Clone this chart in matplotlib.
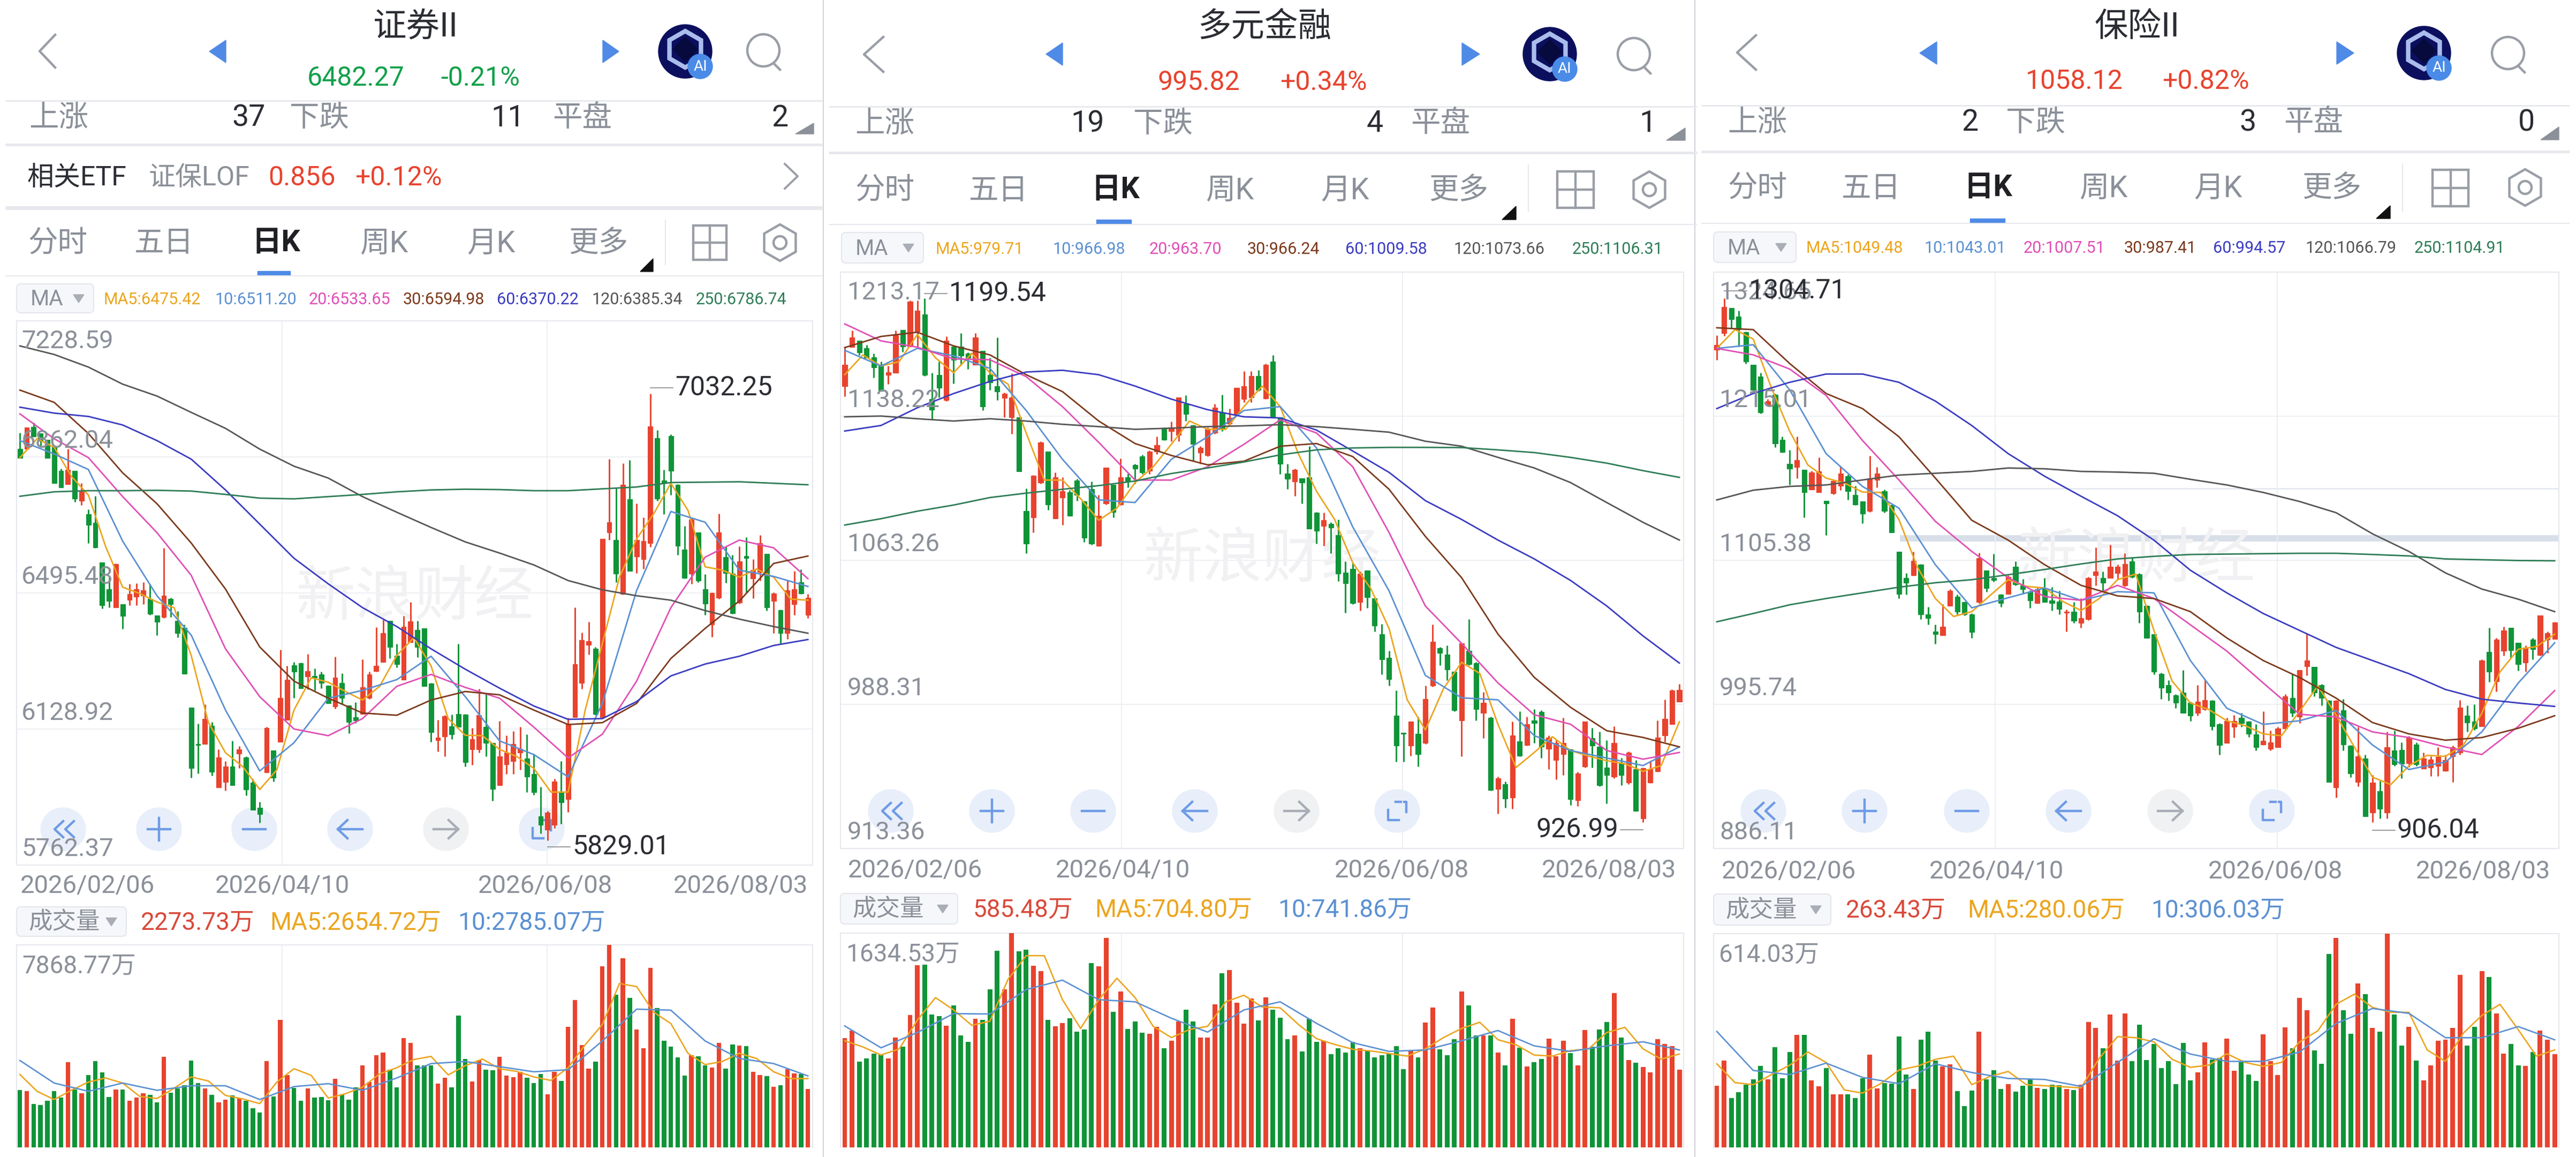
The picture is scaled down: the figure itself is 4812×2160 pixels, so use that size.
import numpy as np
import matplotlib
matplotlib.use("Agg")
import matplotlib.pyplot as plt
from matplotlib.patches import Circle, Ellipse, FancyBboxPatch, Polygon, Rectangle, RegularPolygon

plt.rcParams["font.family"] = ["Roboto", "Noto Sans CJK SC", "DejaVu Sans"]

W, H = 4812, 2160
RED = "#e8432e"
GREEN = "#0f9438"
GREY = "#8b9099"
DARK = "#2b2d33"
LINE = "#e6e8ed"
MA_COLORS = ["#eba51e", "#5b90d2", "#e04fb5", "#7b3a1c", "#3a3cc0", "#565656", "#2f7d57"]

date_labels = ["2026/02/06", "2026/04/10", "2026/06/08", "2026/08/03"]
tab_labels = ["分时", "五日", "日K", "周K", "月K", "更多"]

# ---------- 证券II ----------
sec_high = [6927,6941,6954,6925,6908,6890,6831,6883,6824,6791,6721,6756,6578,6538,6575,6465,6520,6522,6524,6520,6435,6617,6483,6446,6410,6187,6143,6196,6147,6074,6043,6097,6083,6055,5994,5933,6134,6071,6343,6299,6310,6308,6331,6292,6283,6246,6324,6279,6193,6201,6316,6283,6403,6423,6421,6359,6433,6471,6421,6400,6253,6154,6166,6168,6359,6169,6132,6237,6226,6092,6150,6112,6123,6135,6115,6062,5973,5908,5994,6042,6159,6456,6389,6417,6350,6641,6856,6778,6844,6854,6736,6699,7032.25,6934,6828,6923,6789,6676,6699,6658,6546,6497,6709,6621,6598,6621,6646,6586,6651,6601,6497,6451,6529,6555,6559,6492]
sec_low = [6859,6883,6917,6888,6859,6791,6780,6789,6741,6732,6630,6617,6454,6457,6456,6399,6463,6463,6465,6437,6382,6428,6430,6375,6277,5997,6009,6089,6003,5971,5963,5977,6023,5950,5911,5876,6012,5988,6095,6154,6212,6239,6235,6233,6239,6198,6184,6196,6117,6145,6169,6210,6283,6310,6319,6295,6262,6362,6322,6244,6095,6069,6055,6101,6134,6028,6032,6065,6055,5936,5977,6007,6007,6019,5959,5951,5848,5829.01,5862,5873,5905,6161,6237,6329,6166,6157,6638,6525,6491,6555,6549,6561,6619,6743,6707,6759,6598,6534,6520,6525,6437,6377,6479,6523,6439,6467,6497,6481,6529,6448,6387,6359,6371,6437,6492,6428]
sec_open = [6883,6883,6943,6925,6908,6890,6825,6789,6824,6743,6707,6684,6578,6506,6456,6465,6477,6485,6488,6479,6435,6430,6480,6421,6402,6187,6089,6089,6138,5971,5986,6028,6062,6053,5985,5917,6012,6071,6095,6154,6301,6307,6270,6272,6276,6246,6189,6253,6193,6161,6169,6212,6285,6310,6421,6327,6262,6362,6396,6400,6251,6099,6108,6136,6169,6168,6074,6074,6134,6092,5977,6034,6043,6065,6049,6007,5893,5858,5871,5959,5940,6161,6253,6356,6345,6161,6658,6638,6492,6748,6594,6586,6630,6913,6799,6918,6787,6612,6548,6658,6506,6410,6483,6592,6548,6469,6595,6534,6552,6601,6474,6449,6387,6465,6525,6437]
sec_close = [6859,6941,6917,6906,6859,6791,6780,6828,6750,6768,6679,6618,6463,6474,6573,6434,6492,6506,6502,6439,6417,6488,6465,6387,6277,6023,6085,6157,6014,6053,6028,5977,6074,5966,5911,5899,6132,5997,6212,6261,6283,6239,6285,6267,6253,6198,6267,6212,6147,6152,6242,6276,6299,6387,6350,6304,6405,6419,6350,6244,6120,6106,6164,6115,6135,6040,6101,6166,6092,5968,6055,6065,6088,6076,6000,5959,5871,5904,5988,5931,6143,6304,6368,6365,6169,6641,6686,6548,6787,6555,6638,6635,6945,6750,6791,6825,6623,6536,6693,6529,6467,6495,6658,6549,6441,6580,6589,6557,6630,6456,6494,6387,6502,6506,6494,6483]
sec_ma5 = [6860,6911,6888,6810,6759,6621,6511,6494,6471,6456,6327,6147,6065,6028,5966,6019,6180,6267,6255,6230,6207,6244,6327,6375,6299,6157,6112,6111,6074,6055,6023,5959,5959,6180,6359,6538,6641,6709,6791,6718,6566,6557,6538,6560,6538,6479,6476]
sec_ma10 = [6906,6870,6828,6635,6488,6382,6180,6016,6092,6212,6233,6262,6325,6216,6097,6060,6000,6198,6502,6715,6686,6557,6540,6513]
sec_ma20 = [6978,6911,6860,6755,6658,6543,6345,6216,6129,6111,6157,6244,6276,6241,6212,6134,6051,6115,6258,6456,6592,6638,6617,6534]
sec_ma30 = [7042,7009,6925,6819,6736,6630,6506,6350,6258,6212,6172,6166,6207,6230,6221,6180,6141,6146,6198,6319,6400,6474,6575,6595]
sec_ma60 = [6996,6980,6971,6948,6906,6856,6773,6681,6589,6520,6456,6405,6345,6290,6239,6191,6155,6157,6203,6272,6304,6325,6354,6370]
sec_ma120 = [7161,7138,7104,7058,7026,6982,6939,6883,6837,6805,6755,6713,6672,6633,6603,6571,6529,6504,6488,6476,6448,6425,6405,6387]
sec_ma250 = [6756,6768,6771,6771,6772,6770,6761,6751,6749,6755,6761,6768,6773,6775,6774,6771,6771,6776,6781,6793,6794,6795,6791,6787]
sec_vol = [2234,2179,1676,1644,1819,2195,1939,3312,2258,2099,2817,3360,2921,1963,2258,2258,1819,1939,2099,2043,1756,3511,2123,2282,2418,3376,2498,2282,2043,1740,1859,2019,1899,1819,1516,1357,3360,1979,4948,2817,2314,1803,2298,1939,1963,1835,2673,2043,1859,2338,3176,2538,3591,3695,3016,2338,4253,4054,3176,3176,3176,2474,2697,2338,5115,3431,2562,3392,3016,3000,3511,2793,2737,2937,2713,2498,2857,2059,2937,2578,4676,5730,3974,3056,3336,7046,7869,5929,7342,5809,4573,3854,6967,5410,4150,3910,3495,2793,3575,3535,3176,3112,4054,3056,3990,3958,3934,2937,2817,2777,2362,2418,3032,2873,2857,2274]
sec_vol_ma5 = [2833,2179,1859,2218,2538,2697,2498,1979,1899,2298,2737,2578,2019,1883,1700,2538,3056,2801,1915,2083,2338,2857,3096,3415,3535,2817,3176,3431,3056,2953,2737,2601,3096,3990,4772,6368,6248,5251,4812,3655,3216,3336,3655,3455,2937,2673,2673]
sec_vol_ma10 = [3376,2498,2179,2498,2218,2394,2394,1859,2362,2474,2218,2697,3256,3336,3136,2937,3016,4134,5371,5331,4134,3455,3256,2777]
sec_levels = [7228.59, 6862.04, 6495.48, 6128.92, 5762.37]
sec_ma_text = ["MA5:6475.42", "10:6511.20", "20:6533.65", "30:6594.98", "60:6370.22", "120:6385.34", "250:6786.74"]
sec_vol_text = ["2273.73万", "MA5:2654.72万", "10:2785.07万", "7868.77万"]
sec_stats = ["37", "11", "2"]

# ---------- 多元金融 ----------
div_high = [1174.4,1182.7,1177.4,1175.4,1170.9,1166.6,1164.3,1182.7,1183.2,1198.3,1198.3,1199.54,1160.8,1166.6,1179.7,1174.8,1181.3,1171.5,1181.3,1172.1,1168.6,1179.3,1150.6,1160.4,1137.7,1100.5,1107.6,1125.2,1119.7,1109,1106.4,1099.8,1105.6,1094.3,1104.1,1097.2,1111.5,1102.5,1116.2,1108.4,1113.4,1118.1,1120.3,1127.5,1132.4,1135.3,1148,1149,1133.8,1122.6,1132.4,1144.7,1149.4,1142.2,1152.9,1161.7,1161.7,1162.3,1165.6,1170.1,1137.7,1113.4,1110.9,1106,1122.6,1088.4,1088,1083,1084.5,1062.6,1062,1057.5,1058.1,1043.5,1030.2,1016.1,995.6,973.5,979.3,981.9,998.1,1029.8,1018,1019,1005.3,1020,1032.7,1010.2,994.6,981.9,950.6,948.1,979.3,984.8,981.9,985.8,985.2,972.1,969.6,981.3,965.3,953.1,979.3,976,974,969.6,977,960.4,963.7,959.4,955.5,959,979.9,990.7,996.2,998.9]
div_low = [1148.6,1174.1,1170.1,1168.6,1158.4,1151.4,1154.9,1160.8,1171.7,1174.4,1174.4,1159.2,1136.9,1148,1146.1,1155.3,1164.7,1162.7,1165.1,1141.2,1152,1146.7,1137.7,1129.1,1109.5,1066.9,1077.7,1103.1,1089.4,1084.9,1081.6,1086.5,1094.3,1072.8,1071.4,1070.4,1092.3,1085.5,1091.9,1101.1,1103.1,1108,1108,1118.3,1125.6,1125.2,1125.2,1135.7,1114.8,1113.4,1117.4,1129.1,1130.5,1133.4,1138.9,1145.5,1145.5,1151.4,1147.1,1137.3,1108,1100.2,1096.6,1092.7,1079.6,1071.8,1070.8,1066.9,1052.3,1036,1040.5,1037.2,1038.6,1026.3,1004,998.1,958.4,958.4,961.7,955.9,967.6,997.5,1008.7,1000.8,984.8,961.4,1008.7,979.9,970.7,943.4,931.6,934.4,934,961.4,966.8,968.2,960.4,954.5,949.2,951.6,935.9,935.5,955.5,955.5,945.7,936.9,950,946.1,946.7,933,926.99,947.3,953.1,968.8,978,989.7]
div_open = [1153.9,1174.1,1177.4,1173.5,1169,1165.1,1159.8,1160.8,1183.2,1174.4,1182.3,1191.1,1147.1,1159.8,1146.7,1174.4,1174.4,1170.9,1165.1,1172.1,1159.8,1153.9,1147.7,1137.7,1137.7,1088.8,1085.5,1103.7,1119.7,1084.9,1095.9,1098.6,1104.7,1093.9,1100.2,1070.8,1092.7,1102.5,1092.3,1106.4,1112.9,1117.4,1109.9,1119.7,1131.8,1130.5,1128.5,1144.7,1133.4,1119.3,1117.8,1129.5,1140.2,1134.4,1139.3,1147.1,1148,1159.2,1147.5,1166.6,1137.7,1108.4,1104.1,1106,1106.4,1088,1081,1082.2,1076.3,1056.8,1058.7,1041.5,1058.1,1043.5,1024.9,1012.6,982.5,973.5,966.8,973.1,968.2,998.1,1017.7,1014.1,1005.3,979.9,1016.1,1009.8,983.8,981.3,944.2,946.7,939.8,969.2,967.2,979.9,984.4,965.3,959.4,962.3,964.9,938.3,955.9,970.7,966.2,955.5,950.6,957.8,947.7,954.5,929.1,947.7,953.5,972.1,978,989.7]
div_close = [1165.1,1179.3,1171.5,1168.6,1163.7,1151.4,1161.2,1180.3,1174.4,1197.9,1193,1159.8,1141.6,1152.9,1177.4,1167.6,1169.6,1168.6,1179.3,1143.2,1155.9,1151,1150,1148.1,1109.5,1071.8,1107.4,1124.6,1092.3,1106.4,1099.2,1086.5,1097.2,1075.1,1071.8,1086.5,1111.5,1088.4,1106.4,1104.1,1110.9,1109,1119.7,1123.2,1126,1132.4,1148,1139.3,1123.6,1121.7,1131.4,1142.8,1131.4,1137.3,1152.9,1153.9,1159.2,1152,1165.1,1137.7,1113.3,1105.6,1110.3,1103.7,1079.6,1078.6,1084.1,1080.2,1056.2,1051.3,1041.1,1056.2,1043.9,1029.4,1011.8,1001.4,966.8,973.1,979.3,962.3,991.1,1021,1015.1,1006.3,985.2,1020,1009.2,985.8,989.1,943.8,950,939.4,972.1,961.7,978,978.6,966.2,971.1,968.2,968.2,938.9,952.5,979.3,966.8,946.1,951.6,968.2,951.6,963.3,933,955.1,954.5,971.1,980.9,995.6,995.82]
div_ma5 = [1159.8,1170.1,1164.3,1166.6,1180.7,1168.6,1160.8,1170.9,1160.8,1154.9,1129.5,1105,1105,1095.3,1084.1,1090.4,1103.7,1111.9,1123.6,1135.7,1131.4,1131.4,1143.2,1153.9,1143.2,1118.7,1099.2,1084.5,1062,1048.4,1027.8,990.7,975,996.5,1010.2,1004.4,978,955.5,963.3,971.5,964.3,961.4,959,957.4,953.5,956.5,979.3]
div_ma10 = [1172.5,1164.3,1173.5,1169.6,1163.1,1141.2,1115.8,1094.7,1093.3,1115.8,1127.5,1141.2,1143.2,1121.7,1080.6,1047.4,1003.4,991.7,990.7,972.1,964.3,960.4,956.5,966.2]
div_ma20 = [1186.2,1177.4,1174.1,1168,1167.6,1158.8,1143.2,1124.6,1105,1105,1111.9,1123.6,1136.3,1129.5,1111.9,1077.7,1039.5,1020,999.5,982.9,978,964.3,959.8,963.3]
div_ma30 = [1173.9,1179.7,1181.9,1174.8,1170.1,1159.8,1151,1135.7,1124,1117.8,1112.9,1114.8,1122.6,1124,1117.2,1100.2,1075.7,1054.2,1024.9,1002.4,986.8,974.6,971.1,966.2]
div_ma60 = [1130.5,1133.4,1142.6,1150,1156.3,1161.2,1162.1,1159.8,1153.9,1147.1,1141.6,1137.9,1137.3,1131,1120.1,1109,1094.3,1084.5,1073.8,1064,1052.8,1039.5,1023.9,1009.8]
div_ma120 = [1137.9,1138.3,1136.9,1135.7,1136.9,1135.7,1134,1132.8,1131.4,1132,1132.8,1133.2,1133.8,1132.8,1131.4,1129.9,1125.2,1122.6,1116.8,1111.3,1103.7,1093.3,1083,1073.8]
div_ma250 = [1081.6,1084.9,1088.8,1092,1095.9,1098.2,1100.2,1102.1,1104.5,1108.4,1111.3,1114.4,1118.1,1120.7,1121.7,1122,1122,1121.9,1120.7,1119.3,1116.8,1113.8,1109.9,1106.4]
div_vol = [834,891,654,680,716,707,680,837,769,1009,1389,1392,1013,1001,926,1082,852,805,982,973,1204,1501,1204,1634,1494,1509,1384,1345,974,923,946,985,884,899,1404,1379,1598,1035,1189,904,962,876,868,920,755,813,962,1051,962,837,837,1092,1326,1353,1103,942,1134,970,1145,1051,988,826,852,732,982,805,813,712,754,723,805,754,735,688,701,719,774,597,743,685,951,1067,748,704,826,1189,1082,852,852,852,723,626,982,759,618,649,676,829,696,813,719,626,895,766,899,957,1176,837,665,644,613,571,826,790,774,594]
div_vol_ma5 = [813,766,704,751,970,1142,1048,931,962,1282,1462,1462,1126,907,1126,1290,1142,923,837,899,923,1110,1160,1071,1064,938,829,785,748,735,716,696,751,837,907,954,821,782,704,696,738,751,876,915,751,673,712]
div_vol_ma10 = [926,759,876,1020,1017,1204,1275,1126,1110,985,879,1048,1110,946,798,732,743,813,891,774,732,774,805,743]
div_levels = [1213.17, 1138.22, 1063.26, 988.31, 913.36]
div_ma_text = ["MA5:979.71", "10:966.98", "20:963.70", "30:966.24", "60:1009.58", "120:1073.66", "250:1106.31"]
div_vol_text = ["585.48万", "MA5:704.80万", "10:741.86万", "1634.53万"]
div_stats = ["19", "4", "1"]

# ---------- 保险II ----------
ins_high = [1276.6,1304.71,1297.2,1295.2,1279.5,1254.3,1248,1228,1232.3,1199.4,1189.3,1199.4,1174.2,1173.6,1183.6,1150.7,1166.5,1177,1170.7,1162.2,1150.1,1185,1176.5,1159.3,1147.9,1112.1,1095.8,1112.1,1102.6,1070,1056.3,1072,1083.5,1079.2,1074,1064.9,1111.2,1097.8,1110.1,1079.8,1094.1,1104.4,1091.2,1082.6,1084.9,1092.1,1084.9,1082.1,1067.8,1073.5,1076.3,1092.9,1115,1096.9,1117,1102,1110.7,1107.8,1095.8,1071.2,1049.2,1019.7,1014,1003.4,1022,997.6,1010.5,1014.8,999.1,981.3,985.4,987.6,989.1,983.3,980.5,990.5,975.6,978.5,1003.4,1019.1,1022,1050,1024.3,1011.1,999.1,999.1,999.7,964.8,978.5,957.6,941.9,937.6,974.8,975.6,967,971.9,967,959,956.2,963.3,957.6,964.2,999.1,994.8,995.6,1030,1054,1046.3,1054.9,1054,1042.6,1040.6,1046.3,1063.4,1051.2,1058.6]
ins_low = [1258,1276,1282.3,1268,1255.1,1235.1,1217.1,1222.8,1191.3,1187.3,1162.7,1167.9,1137.8,1159.3,1157.3,1124.4,1155.6,1158.7,1151.3,1147.3,1133.5,1142.1,1160.7,1141.6,1126.4,1076.3,1079.2,1093.5,1060.6,1056.3,1042,1048.3,1070.6,1064.3,1063.4,1046.3,1072.9,1081.5,1089.2,1070,1079.8,1086.3,1079.8,1069.2,1072.9,1073.5,1067.2,1064.3,1051.2,1057.7,1054,1059.7,1086.3,1082.1,1092.1,1090.6,1085.5,1092.1,1057.7,1046.3,1018.5,999.7,998.5,992.8,989.1,983.3,987.1,991.1,976.2,957.6,966.2,970.5,978.5,971,960.5,964.8,960.5,963.3,976.8,986.2,981.3,1017.7,1001.9,994.8,936.7,924.7,960.5,940.4,933.3,910.4,906.04,909,909,949,939.6,948.2,949,947,941.3,941.3,944.7,936.7,957.6,974.8,976.2,979,1012.8,1005.4,1032.8,1030.6,1021.4,1020.5,1030,1032.8,1034.8,1045.4]
ins_open = [1265.7,1278,1297.2,1290.9,1278.9,1254.3,1245.1,1223.7,1231.4,1197.1,1178.8,1176.5,1174.2,1159.3,1157.3,1150.7,1156.4,1162.2,1169.3,1155,1150.1,1142.7,1166.5,1157.9,1147.3,1112.1,1092.1,1094.1,1102,1064.3,1051.2,1048.3,1070.6,1077.8,1073.5,1064.3,1073.5,1097.8,1092.1,1079.2,1079.8,1100.6,1086.3,1081.5,1072.9,1084.3,1074.9,1074,1065.4,1066.3,1057.7,1060.6,1094.1,1092.1,1092.1,1095.8,1086.3,1104.4,1094.9,1070.6,1049.2,1019.1,1010.5,1002.8,1004.8,997.1,989.1,991.9,998.5,980.5,966.2,978.5,985.4,982.8,972.8,965.3,961.9,963.3,977.6,1000.5,986.2,1024.8,1024.3,1010.5,998.5,932.7,991.1,964.2,936.7,954.7,913.3,929.8,913.3,960.5,961.3,951,965.3,947,947.6,949,945.3,956.2,959,987.1,982.8,979,1035.7,1013.4,1036.3,1054,1042.6,1027.7,1044.9,1033.4,1044.9,1045.4]
ins_close = [1269.4,1298.1,1288.6,1280.9,1256.6,1235.1,1218,1226.5,1194.2,1187.9,1175,1181.6,1157,1172.2,1173,1148.4,1165.6,1171.3,1157.9,1147.9,1140.7,1167.9,1171.3,1142.7,1126.4,1079.8,1088.3,1105,1064.3,1061.4,1049.2,1054.9,1082.1,1066.3,1064.3,1050.6,1107.2,1084.3,1090.1,1072.9,1092.9,1087.2,1083.5,1074.9,1083.5,1073.5,1072.9,1068.3,1066.3,1059.2,1061.4,1092.1,1096.9,1088.3,1100.6,1100.6,1102.6,1092.9,1066.3,1046.3,1020.5,1008.2,1004.8,996.8,989.1,987.1,997.6,999.1,979,964.8,983.3,983.3,981.3,973.3,963.3,968.2,967,977.6,1002,989.1,1022,1029.1,1004.8,1000.5,936.7,998.5,965.3,943.3,956.2,910.4,936.1,916.1,963.3,949.9,950.4,970.5,949.9,954.7,953.9,955.6,953.3,963.3,993.4,981.9,977.6,1029.1,1020.5,1044.9,1052,1036.8,1026.3,1039.1,1037.7,1063.4,1050,1058.12]
ins_ma5 = [1266.6,1280.9,1273.7,1236.5,1203.6,1177.9,1167.9,1164.2,1157.3,1157,1136.4,1100.6,1076.3,1062.6,1066.3,1078.6,1090.6,1085.5,1084.3,1074,1067.2,1076.3,1090.6,1094.9,1052,1013.4,996.8,991.9,983.3,979.6,973.3,971.9,990.5,1009.9,987.6,963.3,940.4,934.7,949,957,956.2,964.8,989.1,1020.5,1037.7,1039.7,1049.2]
ins_ma10 = [1266.6,1269.4,1235.1,1186.5,1161.6,1145,1102,1069.2,1076.9,1084.3,1074.9,1081.5,1080.6,1029.1,992.8,980.5,983.3,991.1,964.8,946.2,951.9,974.8,1012,1042.6]
ins_ma20 = [1266.6,1261.7,1250.9,1230.8,1196.5,1166.5,1135,1112.1,1092.1,1077.8,1074.9,1086.3,1076.3,1056.3,1036.3,1012,988.2,986.2,974.8,970.5,963.3,957.6,979,1006.2]
ins_ma30 = [1282.3,1280.9,1255.1,1232.3,1220.8,1199.4,1167.9,1135.8,1120.7,1102,1086.3,1078.3,1076.3,1066.3,1046.3,1029.1,1016.2,1000.5,981.9,973.3,968.5,970.5,977.6,987.1]
ins_ma60 = [1220.8,1232.3,1240.8,1247.1,1247.1,1240.8,1226.5,1207.9,1186.5,1169.3,1154.1,1139.3,1120.7,1097.8,1080.6,1064.9,1052,1039.1,1029.1,1019.1,1007.1,999.7,996.8,994.2]
ins_ma120 = [1151.3,1158.7,1161.6,1162.7,1166.5,1170.2,1171.6,1173,1175.6,1175,1173,1172.5,1171.6,1167,1162.7,1157,1150.1,1141.6,1125.5,1112.1,1095.8,1083.5,1075.8,1066.3]
ins_ma250 = [1058.6,1064.9,1071.5,1076.3,1080.6,1084.9,1088.3,1090.6,1094.4,1098.4,1102.6,1106.4,1108.4,1109.8,1110.1,1110.4,1110.7,1110.7,1109.8,1108.7,1106.4,1105.8,1105.2,1105]
ins_vol = [177,250,141,158,180,195,234,195,287,198,274,323,323,192,175,228,152,152,152,142,198,266,170,185,183,319,209,168,309,332,250,233,239,161,119,163,333,195,221,167,181,160,177,195,171,168,180,179,168,164,180,360,343,285,382,250,385,247,353,251,297,228,247,181,300,192,216,302,253,257,313,220,244,209,191,325,247,208,344,285,429,394,278,240,556,602,394,326,471,440,343,333,614,382,292,347,249,193,236,306,309,343,496,292,347,506,490,385,269,297,236,234,274,335,309,268]
ins_vol_ma5 = [240,186,180,209,236,274,244,165,156,183,222,233,253,262,180,204,218,180,177,174,171,256,318,315,303,253,230,236,269,244,233,244,303,335,411,440,402,388,388,280,247,329,379,411,338,262,280]
ins_vol_ma10 = [333,221,209,242,201,183,240,215,198,195,175,244,312,268,247,247,274,356,399,385,315,315,347,309]
ins_levels = [1324.65, 1215.01, 1105.38, 995.74, 886.11]
ins_ma_text = ["MA5:1049.48", "10:1043.01", "20:1007.51", "30:987.41", "60:994.57", "120:1066.79", "250:1104.91"]
ins_vol_text = ["263.43万", "MA5:280.06万", "10:306.03万", "614.03万"]
ins_stats = ["2", "3", "0"]

fig = plt.figure(figsize=(W / 100, H / 100), dpi=100, facecolor="white")
bg = fig.add_axes([0, 0, 1, 1])
bg.set_xlim(0, W)
bg.set_ylim(H, 0)
bg.axis("off")


def hline(x0, x1, y, lw=1.5, color=LINE):
    bg.plot([x0, x1], [y, y], color=color, lw=lw, solid_capstyle="butt")


def label(x, y, s, size, color=GREY, ha="left", weight="normal"):
    bg.text(x, y + 2, s, fontsize=size, color=color, ha=ha, va="center", fontweight=weight)


def button_icon(cx, cy, kind):
    c = "#a9adb6" if kind == "next" else "#6f9be6"
    lw = 3.2
    if kind == "first":
        for off in (-12, 8):
            bg.plot([cx + off + 12, cx + off - 4, cx + off + 12], [cy - 15, cy, cy + 15], color=c, lw=lw)
    elif kind == "plus":
        bg.plot([cx - 21, cx + 21], [cy, cy], color=c, lw=lw)
        bg.plot([cx, cx], [cy - 21, cy + 21], color=c, lw=lw)
    elif kind == "minus":
        bg.plot([cx - 21, cx + 21], [cy, cy], color=c, lw=lw)
    elif kind == "prev":
        bg.plot([cx - 23, cx + 23], [cy, cy], color=c, lw=lw)
        bg.plot([cx - 5, cx - 23, cx - 5], [cy - 17, cy, cy + 17], color=c, lw=lw)
    elif kind == "next":
        bg.plot([cx - 23, cx + 23], [cy, cy], color=c, lw=lw)
        bg.plot([cx + 5, cx + 23, cx + 5], [cy - 17, cy, cy + 17], color=c, lw=lw)
    else:
        bg.plot([cx - 17, cx - 17, cx + 3], [cy - 2, cy + 17, cy + 17], color=c, lw=lw)
        bg.plot([cx - 3, cx + 17, cx + 17], [cy - 17, cy - 17, cy + 2], color=c, lw=lw)


def draw_header(p):
    m = p["stats_y"]
    label(p["title_x"], p["title_y"], p["title"], 45, DARK, "center")
    col = p["price_color"]
    label(p["price_x"][0], p["price_y"], p["price"][0], 36, col, "center")
    label(p["price_x"][1], p["price_y"], p["price"][1], 36, col, "center")

    x0, x1, y0, y1 = p["back"]
    bg.plot([x1, x0, x1], [y0, (y0 + y1) / 2, y1], color="#9a9ea6", lw=3.2)
    for (tip, base) in p["arrows"]:
        bg.add_patch(Polygon([[tip, p["arrow_y"]], [base, p["arrow_y"] - 21], [base, p["arrow_y"] + 21]], color="#4f8ae6"))
    ax_, ay_ = p["ai"]
    bg.add_patch(Circle((ax_, ay_), 50, color="#0b0f5e"))
    bg.add_patch(RegularPolygon((ax_, ay_ - 4), 6, radius=34, fill=False, ec="#a9bcec", lw=6))
    bg.add_patch(RegularPolygon((ax_, ay_ - 4), 4, radius=23, color="#060a3c"))
    bg.add_patch(Circle((ax_ + 28, ay_ + 28), 23, color="#4a8be8"))
    label(ax_ + 28, ay_ + 26, "AI", 20, "white", "center")
    sx, sy = p["search"]
    bg.add_patch(Circle((sx, sy), 30, fill=False, ec="#9a9ea6", lw=3.2))
    bg.plot([sx + 19, sx + 31], [sy + 24, sy + 36], color="#9a9ea6", lw=3.2)

    hline(p["edge"][0], p["edge"][1], p["sep"][0], 2)
    for name, x in zip(["上涨", "下跌", "平盘"], p["stat_x"]):
        label(x, m, name, 40, GREY, "center")
    for val, x in zip(p["stats"], p["stat_r"]):
        label(x, m, val, 40, DARK, "right")
    cx0, cx1, cy0, cy1 = p["corner"]
    bg.add_patch(Polygon([[cx0, cy1], [cx1, cy0], [cx1, cy1]], color=GREY))
    hline(p["edge"][0], p["edge"][1], p["sep"][1], 3.5)

    if "etf_y" in p:
        y = p["etf_y"]
        label(51, y, "相关ETF", 36, DARK)
        label(278, y, "证保LOF", 36, GREY)
        label(501, y, "0.856", 36, RED)
        label(663, y, "+0.12%", 36, RED)
        bg.plot([1466, 1490, 1466], [306, 329, 352], color="#9a9ea6", lw=2.8)
        hline(p["edge"][0], p["edge"][1], 388, 5)

    y = p["tab_y"]
    for name, x in zip(tab_labels, p["tab_x"]):
        if name == "日K":
            label(x, y, name, 40, "#1f2024", "center", "bold")
        else:
            label(x, y, name, 40, GREY, "center")
    t0, t1, ty0, ty1 = p["tab_tri"]
    bg.add_patch(Polygon([[t0, ty1], [t1, ty0], [t1, ty1]], color="#111111"))
    bg.plot([p["tab_div"][0]] * 2, p["tab_div"][1:], color=LINE, lw=1.5)
    g0, g1, gy0, gy1 = p["grid_icon"]
    bg.add_patch(Rectangle((g0, gy0), g1 - g0, gy1 - gy0, fill=False, ec="#9a9ea6", lw=3.2))
    bg.plot([(g0 + g1) / 2] * 2, [gy0, gy1], color="#9a9ea6", lw=3.2)
    bg.plot([g0, g1], [(gy0 + gy1) / 2] * 2, color="#9a9ea6", lw=3.2)
    bg.add_patch(RegularPolygon((p["hex_x"], y), 6, radius=34, fill=False, ec="#9a9ea6", lw=3.2))
    bg.add_patch(Circle((p["hex_x"], y), 12, fill=False, ec="#9a9ea6", lw=3.2))
    b0, b1, by0, by1 = p["tab_bar"]
    bg.add_patch(Rectangle((b0, by0), b1 - b0, by1 - by0, color="#4f8ae6"))
    hline(p["edge"][0], p["edge"][1], by1 + 1, 1.5)

    # MA buttons and legends
    b0, b1, by0, by1 = p["ma_btn"]
    bg.add_patch(FancyBboxPatch((b0 + 6, by0 + 6), b1 - b0 - 12, by1 - by0 - 12, boxstyle="round,pad=6,rounding_size=8",
                                fc="#f6f7fa", ec="#e3e6ec", lw=1.5))
    label(b0 + 26, (by0 + by1) / 2, "MA", 29, GREY)
    bx = b1 - 38
    by = (by0 + by1) / 2
    bg.add_patch(Polygon([[bx, by - 7], [bx + 20, by - 7], [bx + 10, by + 8]], color="#a9adb6"))
    for s, c, x in zip(p["ma_text"], MA_COLORS, p["ma_x"]):
        label(x, p["ma_y"], s, 22, c)


def draw_chart(p):
    L, R, T, B = p["box"]
    x0, step = p["x0"], p["step"]
    top, bottom = p["levels"][0], p["levels"][-1]
    n = len(p["high"])
    idx = np.arange(n)
    closes = np.array(p["close"])
    opens = np.array(p["open"])
    colors = [RED if c >= o else GREEN for o, c in zip(opens, closes)]

    # zoom buttons sit behind the candles
    kinds = ["first", "plus", "minus", "prev", "next", "full"]
    for cx, kind in zip(p["btn_x"], kinds):
        fc = "#f0f1f3" if kind == "next" else "#e8effa"
        bg.add_patch(Ellipse((cx, p["btn_y"]), 84, 80, color=fc))
        button_icon(cx, p["btn_y"], kind)

    ax = fig.add_axes([L / W, 1 - B / H, (R - L) / W, (B - T) / H], facecolor="none")
    xlim = ((L - x0) / step, (R - x0) / step)
    ax.set_xlim(xlim)
    ax.set_ylim(bottom, top)
    ax.set_xticks([xlim[0] + (xlim[1] - xlim[0]) / 3, xlim[0] + (xlim[1] - xlim[0]) * 2 / 3])
    ax.set_yticks(p["levels"][1:-1])
    ax.grid(True, color="#eceef2", lw=1.3)
    ax.set_axisbelow(True)
    ax.tick_params(length=0, labelbottom=False, labelleft=False)
    for s in ax.spines.values():
        s.set_color("#e6e8ed")
        s.set_linewidth(1.5)

    ax.text(0.5, p["wm_y"], "新浪财经", transform=ax.transAxes, fontsize=80, color="#f1f1f3", ha="center", va="center", zorder=1)

    ax.vlines(idx, p["low"], p["high"], colors=colors, lw=2.1, zorder=3)
    ax.bar(idx, closes - opens, bottom=opens, width=0.68, color=colors, ec=colors, lw=0.8, zorder=4)

    for vals, c in zip(p["mas"], MA_COLORS):
        ax.plot(np.linspace(0, n - 1, len(vals)), vals, color=c, lw=2.0, zorder=5)

    for i, v in enumerate(p["levels"]):
        dy = -38 if i == 0 else 30
        ax.annotate(f"{v:.2f}", xy=(0, v), xycoords=ax.get_yaxis_transform(), xytext=(p["label_dx"], dy),
                    textcoords="offset pixels", fontsize=34, color=GREY, va="center", zorder=6, annotation_clip=False)

    unit = (top - bottom) / (B - T)
    for (i, v, off, side) in p["marks"]:
        yy = v + off * unit
        ax.plot([i, i + side * 42 / step], [yy, yy], color="#8a8a8a", lw=1.2, zorder=6, clip_on=False)
        ax.annotate(f"{v:.2f}", xy=(i, yy), xytext=(side * 46, 0), textcoords="offset pixels", fontsize=36,
                    color=DARK, va="center", ha="left" if side > 0 else "right", zorder=7, annotation_clip=False)

    for s, x in zip(date_labels, p["date_x"]):
        label(x, p["date_y"], s, 34, GREY, "center")

    # volume
    vL, vR, vT, vB = p["vol_box"]
    vax = fig.add_axes([vL / W, 1 - vB / H, (vR - vL) / W, (vB - vT) / H], facecolor="none")
    vax.set_xlim(xlim)
    vax.set_ylim(0, max(p["vol"]))
    vax.set_xticks(ax.get_xticks())
    vax.set_yticks([])
    vax.grid(True, axis="x", color="#eceef2", lw=1.3)
    vax.set_axisbelow(True)
    vax.tick_params(length=0, labelbottom=False, labelleft=False)
    for name, s in vax.spines.items():
        s.set_color("#e6e8ed")
        s.set_linewidth(1.5)
        s.set_visible(name != "bottom")
    vax.bar(idx, p["vol"], width=0.66, color=colors, zorder=3)
    vax.plot(np.linspace(0, n - 1, len(p["vol_ma5"])), p["vol_ma5"], color="#eba51e", lw=1.9, zorder=4)
    vax.plot(np.linspace(0, n - 1, len(p["vol_ma10"])), p["vol_ma10"], color="#5b90d2", lw=1.9, zorder=4)

    b0, b1, by0, by1 = p["vol_btn"]
    bg.add_patch(FancyBboxPatch((b0 + 6, by0 + 6), b1 - b0 - 12, by1 - by0 - 12, boxstyle="round,pad=6,rounding_size=8",
                                fc="#f6f7fa", ec="#e3e6ec", lw=1.5))
    label(b0 + 22, (by0 + by1) / 2, "成交量", 32, GREY)
    bx = b1 - 38
    by = (by0 + by1) / 2
    bg.add_patch(Polygon([[bx, by - 7], [bx + 20, by - 7], [bx + 10, by + 8]], color="#a9adb6"))
    vt = p["vol_text"]
    for s, c, x in zip(vt[:3], ["#d9493a", "#eba51e", "#5b90d2"], p["vol_x"]):
        label(x, by, s, 33, c)
    label(p["box"][0] + 10, vT + 38, vt[3], 33, GREY)


panels = [
    dict(title="证券II", title_x=776, title_y=48, price=["6482.27", "-0.21%"], price_color="#12a04a", price_x=[665, 897], price_y=144,
         back=(74, 103, 65, 126), arrows=[(391, 422), (1156, 1126)], arrow_y=96, ai=(1280, 96), search=(1426, 94),
         edge=(10, 1536), sep=(188, 270), stats_y=218, stat_x=(110, 597, 1088), stats=sec_stats, stat_r=(496, 980, 1473),
         corner=(1486, 1520, 230, 250), etf_y=330, tab_y=453, tab_x=(108, 306, 516, 717, 918, 1118), tab_tri=(1196, 1220, 483, 507),
         tab_div=(1243, 411, 494), grid_icon=(1295, 1357, 421, 485), hex_x=1457, tab_bar=(481, 542, 506, 514),
         ma_btn=(31, 175, 530, 584), ma_text=sec_ma_text, ma_x=(194, 401, 577, 753, 928, 1105, 1300), ma_y=557,
         box=(31, 1518, 599, 1615), x0=37.2, step=12.8, levels=sec_levels, label_dx=9, wm_y=0.49,
         high=sec_high, low=sec_low, open=sec_open, close=sec_close,
         mas=[sec_ma5, sec_ma10, sec_ma20, sec_ma30, sec_ma60, sec_ma120, sec_ma250],
         marks=[(92, 7032.25, 11, 1), (77, 5829.01, -12, 1)],
         btn_x=(118, 297, 475, 654, 833, 1012), btn_y=1548, date_x=(163, 528, 1019, 1384), date_y=1652,
         vol_box=(31, 1518, 1764, 2142), vol=sec_vol, vol_ma5=sec_vol_ma5, vol_ma10=sec_vol_ma10,
         vol_btn=(31, 236, 1693, 1748), vol_text=sec_vol_text, vol_x=(263, 504, 855)),
    dict(title="多元金融", title_x=2362, title_y=49, price=["995.82", "+0.34%"], price_color=RED, price_x=[2239, 2472], price_y=152,
         back=(1614, 1650, 69, 134), arrows=[(1954, 1985), (2764, 2731)], arrow_y=101, ai=(2895, 101), search=(3052, 101),
         edge=(1548, 3170), sep=(199, 285), stats_y=229, stat_x=(1653, 2173, 2691), stats=div_stats, stat_r=(2063, 2584, 3094),
         corner=(3113, 3148, 239, 262), tab_y=354, tab_x=(1653, 1865, 2084, 2297, 2513, 2725), tab_tri=(2806, 2832, 385, 410),
         tab_div=(2855, 308, 395), grid_icon=(2909, 2977, 320, 388), hex_x=3081, tab_bar=(2048, 2113, 410, 418),
         ma_btn=(1572, 1725, 434, 491), ma_text=div_ma_text, ma_x=(1747, 1966, 2147, 2330, 2513, 2715, 2937), ma_y=463,
         box=(1570, 3145, 508, 1584), x0=1578, step=13.557, levels=div_levels, label_dx=13, wm_y=0.5,
         high=div_high, low=div_low, open=div_open, close=div_close,
         mas=[div_ma5, div_ma10, div_ma20, div_ma30, div_ma60, div_ma120, div_ma250],
         marks=[(11, 1199.54, 9, 1), (110, 926.99, -14, -1)],
         btn_x=(1664, 1853, 2042, 2232, 2422, 2610), btn_y=1514, date_x=(1710, 2098, 2619, 3006), date_y=1623,
         vol_box=(1570, 3145, 1742, 2142), vol=div_vol, vol_ma5=div_vol_ma5, vol_ma10=div_vol_ma10,
         vol_btn=(1570, 1789, 1668, 1725), vol_text=div_vol_text, vol_x=(1818, 2045, 2387)),
    dict(title="保险II", title_x=3992, title_y=49, price=["1058.12", "+0.82%"], price_color=RED, price_x=[3875, 4120], price_y=150,
         back=(3245, 3280, 66, 130), arrows=[(3586, 3618), (4397, 4365)], arrow_y=99, ai=(4528, 99), search=(4685, 99),
         edge=(3178, 4800), sep=(197, 283), stats_y=227, stat_x=(3283, 3803, 4322), stats=ins_stats, stat_r=(3696, 4215, 4735),
         corner=(4746, 4780, 237, 261), tab_y=350, tab_x=(3283, 3495, 3714, 3929, 4144, 4356), tab_tri=(4439, 4465, 384, 408),
         tab_div=(4488, 306, 395), grid_icon=(4544, 4611, 317, 385), hex_x=4717, tab_bar=(3680, 3745, 408, 416),
         ma_btn=(3201, 3355, 433, 490), ma_text=ins_ma_text, ma_x=(3374, 3594, 3780, 3968, 4134, 4306, 4510), ma_y=461,
         box=(3201, 4780, 508, 1584), x0=3207, step=13.61, levels=ins_levels, label_dx=11, wm_y=0.5,
         high=ins_high, low=ins_low, open=ins_open, close=ins_close,
         mas=[ins_ma5, ins_ma10, ins_ma20, ins_ma30, ins_ma60, ins_ma120, ins_ma250],
         marks=[(1, 1304.71, 14, 1), (90, 906.04, -15, 1)],
         btn_x=(3294, 3483, 3674, 3864, 4054, 4244), btn_y=1514, date_x=(3341, 3729, 4251, 4639), date_y=1625,
         vol_box=(3201, 4780, 1743, 2142), vol=ins_vol, vol_ma5=ins_vol_ma5, vol_ma10=ins_vol_ma10,
         vol_btn=(3201, 3420, 1669, 1727), vol_text=ins_vol_text, vol_x=(3448, 3675, 4018)),
]

# stray bands on the 保险II chart
hline(3535, 4780, 912, 1.8, "#e3e7ee")
hline(3549, 4780, 1005, 8.5, "#d8dfe8")

# dividers between the three screens
for x in (1538, 3166):
    bg.plot([x, x], [0, H], color="#cfd2d8", lw=1.4)

for p in panels:
    draw_header(p)
    draw_chart(p)

fig.savefig("out.png", dpi=100)
